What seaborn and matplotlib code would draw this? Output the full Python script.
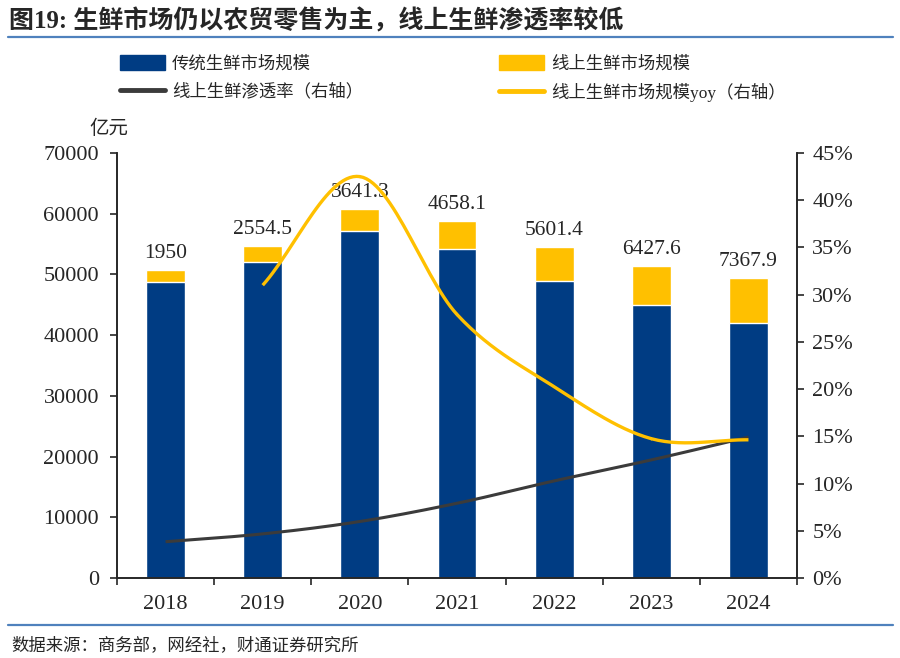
import numpy as np
import pandas as pd
import matplotlib
matplotlib.use('Agg')
import matplotlib.pyplot as plt
import seaborn as sns
from matplotlib.patches import Patch
from matplotlib.lines import Line2D
from matplotlib.ticker import PercentFormatter

years = ['2018', '2019', '2020', '2021', '2022', '2023', '2024']
traditional = [48800, 52100, 57200, 54200, 48900, 45000, 42000]
online = [1950, 2554.5, 3641.3, 4658.1, 5601.4, 6427.6, 7367.9]
online_labels = ['1950', '2554.5', '3641.3', '4658.1', '5601.4', '6427.6', '7367.9']
penetration = [0.0384, 0.0467, 0.0598, 0.0791, 0.1028, 0.1250, 0.1492]
yoy_years = ['2019', '2020', '2021', '2022', '2023', '2024']
yoy = [0.310, 0.425, 0.279, 0.2025, 0.1475, 0.1463]

BLUE = '#003C83'
YELLOW = '#FFC000'
DARK = '#3B3B3B'
RULE = '#4F81BD'


def smooth(xs, ys, n=30):
    # Catmull-Rom through the points, like Excel's "smoothed line"
    xs = np.asarray(xs, float)
    ys = np.asarray(ys, float)
    px = np.concatenate([[2 * xs[0] - xs[1]], xs, [2 * xs[-1] - xs[-2]]])
    py = np.concatenate([[2 * ys[0] - ys[1]], ys, [2 * ys[-1] - ys[-2]]])
    outx, outy = [], []
    t = np.linspace(0, 1, n)
    for i in range(1, len(px) - 2):
        for p, out in ((px, outx), (py, outy)):
            p0, p1, p2, p3 = p[i - 1], p[i], p[i + 1], p[i + 2]
            out.extend(0.5 * (2 * p1 + (-p0 + p2) * t
                              + (2 * p0 - 5 * p1 + 4 * p2 - p3) * t ** 2
                              + (-p0 + 3 * p1 - 3 * p2 + p3) * t ** 3))
    return np.array(outx), np.array(outy)


sns.set_style('ticks')
plt.rcParams['font.family'] = ['Liberation Serif', 'Noto Sans CJK SC']
plt.rcParams['axes.linewidth'] = 1.2

df = pd.DataFrame({'year': years, 'traditional': traditional, 'online': online})
df['total'] = df['traditional'] + df['online']

fig = plt.figure(figsize=(9, 6.58), dpi=100)
ax = fig.add_axes([0.13, 0.1216, 0.7556, 0.6459])

sns.barplot(data=df, x='year', y='total', color=YELLOW, width=0.4,
            saturation=1, ax=ax)
sns.barplot(data=df, x='year', y='traditional', color=BLUE, width=0.4,
            saturation=1, ax=ax)

for i, row in df.iterrows():
    ax.annotate(online_labels[i], (i, row['total']), xytext=(0, 5),
                textcoords='offset points', ha='center', va='bottom',
                fontsize=15.5)

ax.set_ylim(0, 70000)
ax.set_yticks(range(0, 70001, 10000))
ax.set_xlim(-0.5, 6.5)
ax.set_xticks(np.arange(-0.5, 7, 1))
ax.set_xticklabels([])
ax.set_xticks(range(7), minor=True)
ax.set_xticklabels(years, minor=True)
ax.tick_params(axis='x', which='minor', length=0, pad=12, labelsize=16)
ax.tick_params(axis='x', which='major', length=5, width=1.2, direction='out')
ax.tick_params(axis='y', length=5, width=1.2, labelsize=16, pad=8)
ax.set_xlabel('')
ax.set_ylabel('')
ax.spines['top'].set_visible(False)
ax.text(-0.012, 1.036, '亿元', transform=ax.transAxes, fontsize=14,
        ha='center', va='bottom')

ax2 = ax.twinx()
x_pen = [years.index(y) for y in years]
sx, sy = smooth(x_pen, penetration)
ax2.plot(sx, sy, color=DARK, lw=2.2, solid_capstyle='butt')
x_yoy = [years.index(y) for y in yoy_years]
sx, sy = smooth(x_yoy, yoy)
ax2.plot(sx, sy, color=YELLOW, lw=2.4, solid_capstyle='butt')
ax2.set_ylim(0, 0.45)
ax2.set_yticks(np.arange(0, 0.451, 0.05))
ax2.yaxis.set_major_formatter(PercentFormatter(1.0, decimals=0))
ax2.tick_params(axis='y', length=5, width=1.2, labelsize=16, pad=6)
ax2.spines['top'].set_visible(False)

handles = [Patch(color=BLUE), Patch(color=YELLOW),
           Line2D([], [], color=DARK, lw=3.5), Line2D([], [], color=YELLOW, lw=3.5)]
labels = ['传统生鲜市场规模', '线上生鲜市场规模',
          '线上生鲜渗透率（右轴）', '线上生鲜市场规模yoy（右轴）']
order = [0, 2, 1, 3]
fig.legend([handles[i] for i in order], [labels[i] for i in order],
           loc='upper left', bbox_to_anchor=(0.116, 0.94), ncol=2,
           frameon=False, fontsize=12.5, handlelength=2.6, handleheight=0.9,
           columnspacing=7.8, labelspacing=0.62, handletextpad=0.4)

fig.text(0.010, 0.968, '图19: 生鲜市场仍以农贸零售为主，线上生鲜渗透率较低',
         fontsize=18, fontweight='bold', ha='left', va='center')
fig.add_artist(Line2D([0.009, 0.992], [0.944, 0.944], color=RULE, lw=1.6))
fig.add_artist(Line2D([0.009, 0.992], [0.050, 0.050], color=RULE, lw=1.6))
fig.text(0.013, 0.018, '数据来源：商务部，网经社，财通证券研究所',
         fontsize=12.5, ha='left', va='center')

fig.savefig('out.png', dpi=100)
plt.close(fig)
